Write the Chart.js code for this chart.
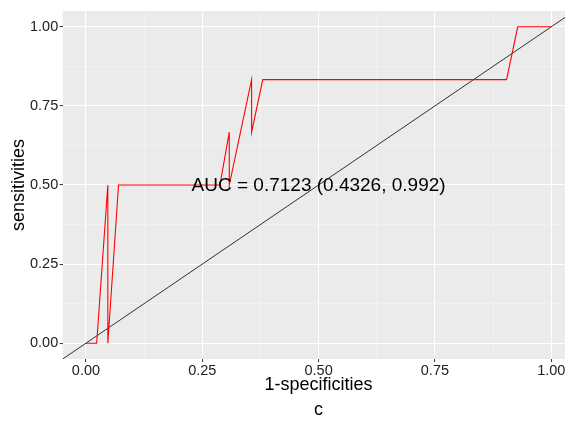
<!DOCTYPE html>
<html>
<head>
<meta charset="utf-8">
<script src="https://cdn.jsdelivr.net/npm/chart.js@4/dist/chart.umd.min.js"></script>
<style>
  html, body { margin: 0; padding: 0; background: #ffffff; overflow: hidden; width: 565px; height: 421px; }
  canvas { display: block; }
</style>
</head>
<body>
<!-- the original plot is a bit wider than the window, its right edge is cut off -->
<canvas id="roc" width="575" height="421"></canvas>
<script>
// ROC curve points (1-specificity, sensitivity), in drawing order
var specificities1 = [0, 0.023, 0.047, 0.047, 0.070, 0.288, 0.308, 0.308, 0.356, 0.356, 0.380, 0.904, 0.928, 1];
var sensitivities = [0, 0, 0.5, 0, 0.5, 0.5, 0.667, 0.5, 0.833, 0.667, 0.833, 0.833, 1, 1];

// reference diagonal (y = x) across the panel
var diagonal = [-0.05, 1.05];

// axis ticks, labelled ones are every 0.25, minor grid in between
var tickValues = [0, 0.125, 0.25, 0.375, 0.5, 0.625, 0.75, 0.875, 1];
var tickLabels = ['0.00', '', '0.25', '', '0.50', '', '0.75', '', '1.00'];

var aucText = 'AUC = 0.7123 (0.4326, 0.992)';
var captionText = 'c';

var FONT = 'Liberation Sans, Arial, Helvetica, sans-serif';

function isMajor(v) {
    return Math.abs(v * 4 - Math.round(v * 4)) < 1e-6;
}

function gridStyle() {
    return {
        color: function(ctx) { return isMajor(ctx.tick.value) ? '#ffffff' : 'rgba(255,255,255,0.55)'; },
        lineWidth: function(ctx) { return isMajor(ctx.tick.value) ? 1.1 : 0.6; },
        tickColor: function(ctx) { return isMajor(ctx.tick.value) ? '#333333' : 'rgba(0,0,0,0)'; },
        tickLength: 3,
        tickWidth: 1
    };
}

// grey panel behind the grid
var panelBg = {
    id: 'panelBg',
    beforeDraw: function(chart) {
        var a = chart.chartArea, c = chart.ctx;
        c.save();
        c.fillStyle = '#EBEBEB';
        c.fillRect(a.left, a.top, a.right - a.left, a.bottom - a.top);
        c.restore();
    }
};

// AUC annotation placed at (0.5, 0.5)
var aucLabel = {
    id: 'aucLabel',
    afterDatasetsDraw: function(chart) {
        var c = chart.ctx;
        var x = chart.scales.x.getPixelForValue(0.5);
        var y = chart.scales.y.getPixelForValue(0.5) + 1;
        c.save();
        c.font = '19px ' + FONT;
        c.fillStyle = '#000000';
        c.textAlign = 'center';
        c.textBaseline = 'middle';
        c.fillText(aucText, x, y);
        c.restore();
    }
};

var ctx = document.getElementById('roc').getContext('2d');
var chart = new Chart(ctx, {
    type: 'scatter',
    data: {
        datasets: [{
            data: specificities1.map(function(v, i) { return { x: v, y: sensitivities[i] }; }),
            showLine: true,
            borderColor: '#FF0000',
            borderWidth: 1.1,
            pointRadius: 0,
            tension: 0
        }, {
            data: diagonal.map(function(v) { return { x: v, y: v }; }),
            showLine: true,
            borderColor: '#000000',
            borderWidth: 0.8,
            pointRadius: 0
        }]
    },
    options: {
        responsive: false,
        animation: false,
        devicePixelRatio: 1,
        layout: { padding: { left: 0, top: 11, right: 0.5, bottom: 0 } },
        plugins: {
            legend: { display: false },
            tooltip: { enabled: false },
            title: {
                display: true,
                position: 'bottom',
                fullSize: false,
                text: captionText,
                color: '#000000',
                font: { family: FONT, size: 18, weight: 'normal' },
                padding: { top: 0, bottom: 0 }
            }
        },
        scales: {
            x: {
                type: 'linear',
                min: -0.05,
                max: 1.05,
                afterBuildTicks: function(s) { s.ticks = tickValues.map(function(v) { return { value: v }; }); },
                afterFit: function(s) { s.height = 40.4; },
                grid: gridStyle(),
                border: { display: false },
                ticks: {
                    autoSkip: false,
                    maxRotation: 0,
                    padding: 0,
                    color: '#222222',
                    font: { family: FONT, size: 14.5 },
                    callback: function(v, i) { return tickLabels[i]; }
                },
                title: {
                    display: true,
                    text: '1-specificities',
                    color: '#000000',
                    font: { family: FONT, size: 18 },
                    padding: { top: 0, bottom: 3.6 }
                }
            },
            y: {
                type: 'linear',
                min: -0.05,
                max: 1.05,
                afterBuildTicks: function(s) { s.ticks = tickValues.map(function(v) { return { value: v }; }); },
                afterFit: function(s) { s.width = 62.7; },
                grid: gridStyle(),
                border: { display: false },
                ticks: {
                    autoSkip: false,
                    padding: 1.5,
                    color: '#222222',
                    font: { family: FONT, size: 14.5 },
                    callback: function(v, i) { return tickLabels[i]; }
                },
                title: {
                    display: true,
                    text: 'sensitivities',
                    color: '#000000',
                    font: { family: FONT, size: 18 },
                    padding: { top: 8, bottom: 0 }
                }
            }
        }
    },
    plugins: [panelBg, aucLabel]
});
</script>
</body>
</html>
